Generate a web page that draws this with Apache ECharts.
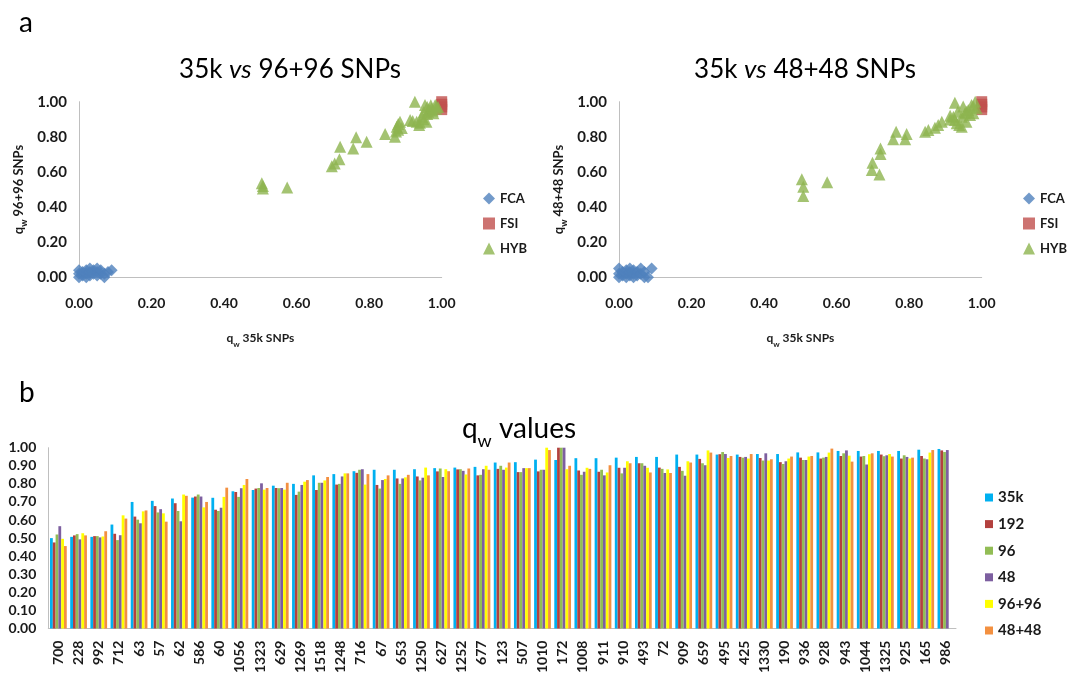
<!DOCTYPE html>
<html>
<head>
<meta charset="utf-8">
<script src="https://cdn.jsdelivr.net/npm/echarts@6/dist/echarts.min.js"></script>
<style>html,body{margin:0;padding:0;background:#fff}#c{width:1067px;height:676px}</style>
</head>
<body>
<div id="c"></div>
<script>
// ---------- Data ----------
const categories = ['700','228','992','712','63','57','62','586','60','1056','1323','629','1269','1518','1248','716','67','653','1250','627','1252','677','123','507','1010','172','1008','911','910','493','72','909','659','495','425','1330','190','936','928','943','1044','1325','925','165','986'];
const seriesNames = ['35k','192','96','48','96+96','48+48'];
const v35k = [0.50,0.507,0.507,0.575,0.70,0.706,0.719,0.724,0.723,0.759,0.766,0.79,0.80,0.847,0.854,0.87,0.878,0.878,0.881,0.887,0.89,0.894,0.918,0.92,0.934,0.932,0.942,0.942,0.945,0.949,0.949,0.962,0.962,0.962,0.962,0.965,0.965,0.974,0.974,0.982,0.982,0.982,0.982,0.989,0.993];
const v192 = [0.476,0.515,0.511,0.524,0.619,0.677,0.693,0.73,0.657,0.755,0.774,0.777,0.739,0.766,0.796,0.861,0.794,0.83,0.841,0.869,0.88,0.847,0.883,0.865,0.869,1.0,0.874,0.867,0.889,0.914,0.89,0.894,0.938,0.964,0.949,0.943,0.92,0.945,0.94,0.954,0.951,0.962,0.94,0.954,0.985];
const v96 = [0.52,0.522,0.511,0.489,0.602,0.642,0.65,0.741,0.65,0.728,0.777,0.776,0.757,0.806,0.80,0.878,0.774,0.80,0.819,0.885,0.881,0.85,0.90,0.865,0.878,1.0,0.85,0.878,0.858,0.914,0.883,0.872,0.914,0.976,0.945,0.929,0.91,0.932,0.945,0.969,0.954,0.953,0.958,0.94,0.976];
const v48 = [0.566,0.493,0.504,0.516,0.582,0.66,0.593,0.73,0.668,0.776,0.803,0.777,0.794,0.806,0.841,0.881,0.821,0.83,0.834,0.838,0.872,0.881,0.878,0.887,0.878,1.0,0.867,0.847,0.889,0.90,0.86,0.845,0.903,0.965,0.949,0.969,0.925,0.932,0.949,0.985,0.907,0.958,0.949,0.936,0.987];
const v9696 = [0.496,0.527,0.509,0.626,0.648,0.637,0.741,0.67,0.728,0.794,0.768,0.768,0.812,0.819,0.858,0.796,0.827,0.836,0.89,0.881,0.852,0.90,0.89,0.887,1.0,0.881,0.889,0.863,0.925,0.889,0.88,0.925,0.985,0.943,0.94,0.929,0.94,0.951,0.973,0.956,0.964,0.965,0.94,0.973,null];
const v4848 = [0.456,0.515,0.538,0.608,0.653,0.591,0.734,0.70,0.779,0.827,0.777,0.806,0.821,0.838,0.858,0.854,0.847,0.85,0.847,0.87,0.885,0.878,0.918,0.887,0.987,0.90,0.883,0.903,0.914,0.863,0.86,0.918,0.973,0.954,0.965,0.936,0.951,0.954,0.995,0.923,0.969,0.951,0.945,0.987,null];

// scatter (a): left = 35k vs 96+96, right = 35k vs 48+48
const fcaLeft = [[0.00,0.00],[0.00,0.02],[0.00,0.04],[0.01,0.01],[0.01,0.03],[0.02,0.00],[0.02,0.02],[0.02,0.04],[0.03,0.01],[0.03,0.03],[0.03,0.05],[0.04,0.02],[0.04,0.04],[0.05,0.01],[0.05,0.03],[0.05,0.05],[0.06,0.02],[0.06,0.04],[0.07,0.00],[0.07,0.02],[0.08,0.03],[0.09,0.04]];
const fsiLeft = [[1.0,1.0],[1.0,0.985],[1.0,0.97],[1.0,0.955]];
const hybLeft = [[0.504,0.535],[0.507,0.52],[0.507,0.505],[0.574,0.512],[0.697,0.632],[0.705,0.648],[0.718,0.672],[0.72,0.744],[0.756,0.734],[0.764,0.797],[0.793,0.772],[0.844,0.816],[0.871,0.801],[0.874,0.83],[0.876,0.858],[0.88,0.873],[0.885,0.886],[0.89,0.85],[0.913,0.896],[0.926,1.0],[0.931,0.886],[0.938,0.867],[0.945,0.915],[0.954,0.981],[0.958,0.886],[0.963,0.943],[0.972,0.962],[0.982,0.981],[0.977,0.934],[0.95,0.9],[0.96,0.93],[0.965,0.955],[0.975,0.95],[0.985,0.96],[0.94,0.88],[0.92,0.89],[0.99,0.97],[0.96,0.97],[0.95,0.94],[0.88,0.84],[0.97,0.98],[0.985,0.975]];
const fcaRight = [[0.00,0.00],[0.00,0.02],[0.00,0.05],[0.01,0.01],[0.01,0.03],[0.02,0.00],[0.02,0.02],[0.02,0.04],[0.03,0.01],[0.03,0.03],[0.03,0.05],[0.04,0.00],[0.04,0.02],[0.04,0.04],[0.05,0.01],[0.05,0.03],[0.06,0.05],[0.06,0.02],[0.07,0.00],[0.07,0.03],[0.08,0.00],[0.09,0.05]];
const fsiRight = [[1.0,1.0],[1.0,0.985],[1.0,0.97],[1.0,0.955]];
const hybRight = [[0.504,0.558],[0.508,0.516],[0.508,0.463],[0.574,0.541],[0.699,0.653],[0.697,0.611],[0.718,0.586],[0.721,0.734],[0.721,0.702],[0.756,0.786],[0.764,0.829],[0.789,0.786],[0.793,0.816],[0.844,0.829],[0.853,0.839],[0.871,0.852],[0.88,0.867],[0.89,0.886],[0.913,0.899],[0.926,0.994],[0.922,0.915],[0.931,0.877],[0.938,0.867],[0.945,0.915],[0.949,0.972],[0.954,0.934],[0.958,0.886],[0.963,0.953],[0.972,0.981],[0.977,0.934],[0.982,1.0],[0.986,0.962],[0.934,0.943],[0.945,0.858],[0.968,0.924],[0.926,0.896],[0.958,0.943],[0.977,0.972],[0.913,0.92]];

// ---------- Chart ----------
const FONT = 'Lato, "Open Sans", sans-serif';
const AX = '#BFBFBF';
const TXT = '#1a1a1a';
const subRich = (fs) => ({
  q: {fontSize: fs, fontWeight: 'bold', color: TXT, fontFamily: FONT, lineHeight: fs + 2, verticalAlign: 'top'},
  s: {fontSize: Math.round(fs * 0.7), fontWeight: 'bold', color: TXT, fontFamily: FONT, lineHeight: Math.round(fs * 0.7), padding: [Math.round(fs * 0.65), 0, 0, 0], verticalAlign: 'top'},
  t: {fontSize: fs, fontWeight: 'bold', color: TXT, fontFamily: FONT, lineHeight: fs + 2, verticalAlign: 'top'}
});
const fmt2 = v => v.toFixed(2);

function scatterAxes(gi, yname) {
  return {
    x: {
      type: 'value', gridIndex: gi, min: 0, max: 1, interval: 0.2,
      axisLine: {show: true, lineStyle: {color: AX}}, axisTick: {show: false}, splitLine: {show: false},
      axisLabel: {formatter: fmt2, fontFamily: FONT, fontWeight: 'bold', fontSize: 14, color: TXT, margin: 19},
      name: '{q|q}{s|w}{t| 35k SNPs}', nameLocation: 'middle', nameGap: 55,
      nameTextStyle: {rich: subRich(12)}
    },
    y: {
      type: 'value', gridIndex: gi, min: 0, max: 1, interval: 0.2,
      axisLine: {show: true, lineStyle: {color: AX}}, axisTick: {show: false}, splitLine: {show: false},
      axisLabel: {formatter: fmt2, fontFamily: FONT, fontWeight: 'bold', fontSize: 15, color: TXT, margin: 12},
      name: '{q|q}{s|w}{t| ' + yname + '}', nameLocation: 'middle', nameGap: 52, nameRotate: 90,
      nameTextStyle: {rich: subRich(13)}
    }
  };
}
const a0 = scatterAxes(0, '96+96 SNPs');
const a1 = scatterAxes(1, '48+48 SNPs');

const barColors = ['#00B0F0', '#B3413E', '#92BD55', '#7D5FA0', '#FFFF00', '#F39040'];
const barData = [v35k, v192, v96, v48, v9696, v4848];

const titleStyle = {fontFamily: FONT, fontSize: 26, fontWeight: 'normal', color: '#000',
  rich: {i: {fontFamily: FONT, fontSize: 26, fontWeight: 'normal', fontStyle: 'italic', color: '#000'}, n: {fontFamily: FONT, fontSize: 26, fontWeight: 'normal', color: '#000'}}};

const option = {
  animation: false,
  backgroundColor: '#fff',
  title: [
    {text: 'a', left: 14, top: 4, textStyle: {fontFamily: FONT, fontSize: 28, fontWeight: 'normal', color: '#000'}},
    {text: 'b', left: 14, top: 374, textStyle: {fontFamily: FONT, fontSize: 28, fontWeight: 'normal', color: '#000'}},
    {text: '{n|35k }{i|vs}{n| 96+96 SNPs}', left: 285, textAlign: 'center', top: 52, textStyle: titleStyle},
    {text: '{n|35k }{i|vs}{n| 48+48 SNPs}', left: 800, textAlign: 'center', top: 52, textStyle: titleStyle},
    {text: '{q|q}{s|w}{t| values}', left: 514, textAlign: 'center', top: 410,
      textStyle: {fontWeight: 'normal', rich: {
        q: {fontFamily: FONT, fontSize: 28, fontWeight: 'normal', color: '#000', lineHeight: 29, verticalAlign: 'top'},
        s: {fontFamily: FONT, fontSize: 18, fontWeight: 'normal', color: '#000', lineHeight: 18, padding: [17, 0, 0, 0], verticalAlign: 'top'},
        t: {fontFamily: FONT, fontSize: 28, fontWeight: 'normal', color: '#000', lineHeight: 29, verticalAlign: 'top'}
      }}}
  ],
  legend: [
    {orient: 'vertical', left: 478, top: 187, itemWidth: 12, itemHeight: 12, itemGap: 12,
      textStyle: {fontFamily: FONT, fontWeight: 'bold', fontSize: 13, color: TXT},
      data: [{name: 'FCA', icon: 'diamond'}, {name: 'FSI', icon: 'rect'}, {name: 'HYB', icon: 'triangle'}]},
    {orient: 'vertical', left: 1018, top: 187, itemWidth: 12, itemHeight: 12, itemGap: 12,
      textStyle: {fontFamily: FONT, fontWeight: 'bold', fontSize: 13, color: TXT},
      data: [{name: 'FCA', icon: 'diamond'}, {name: 'FSI', icon: 'rect'}, {name: 'HYB', icon: 'triangle'}]},
    {orient: 'vertical', left: 980, top: 485, itemWidth: 8, itemHeight: 8, itemGap: 11.6,
      textStyle: {fontFamily: FONT, fontWeight: 'bold', fontSize: 15, color: TXT},
      data: seriesNames.map(n => ({name: n, icon: 'rect'}))}
  ],
  grid: [
    {left: 79, top: 101.7, width: 362.7, height: 175.6},
    {left: 619, top: 101.7, width: 362.7, height: 175.6},
    {left: 48.3, top: 447.7, width: 907.7, height: 184}
  ],
  xAxis: [a0.x, a1.x, {
    type: 'category', gridIndex: 2, data: categories,
    axisLine: {show: true, lineStyle: {color: AX}}, axisTick: {show: false},
    axisLabel: {interval: 0, rotate: 90, fontFamily: FONT, fontWeight: 'bold', fontSize: 14, color: TXT, margin: 12}
  }],
  yAxis: [a0.y, a1.y, {
    type: 'value', gridIndex: 2, min: 0, max: 1, interval: 0.1,
    axisLine: {show: true, lineStyle: {color: AX}}, axisTick: {show: false}, splitLine: {show: false},
    axisLabel: {formatter: fmt2, fontFamily: FONT, fontWeight: 'bold', fontSize: 14, color: TXT, margin: 12}
  }],
  series: [
    {name: 'FCA', type: 'scatter', xAxisIndex: 0, yAxisIndex: 0, data: fcaLeft, symbol: 'diamond', symbolSize: 12, clip: false, itemStyle: {color: '#4F81BD'}},
    {name: 'FSI', type: 'scatter', xAxisIndex: 0, yAxisIndex: 0, data: fsiLeft, symbol: 'rect', symbolSize: 11, clip: false, itemStyle: {color: '#C0504D'}},
    {name: 'HYB', type: 'scatter', xAxisIndex: 0, yAxisIndex: 0, data: hybLeft, symbol: 'triangle', symbolSize: 12, clip: false, itemStyle: {color: '#8DB44F'}},
    {name: 'FCA', type: 'scatter', xAxisIndex: 1, yAxisIndex: 1, data: fcaRight, symbol: 'diamond', symbolSize: 12, clip: false, itemStyle: {color: '#4F81BD'}},
    {name: 'FSI', type: 'scatter', xAxisIndex: 1, yAxisIndex: 1, data: fsiRight, symbol: 'rect', symbolSize: 11, clip: false, itemStyle: {color: '#C0504D'}},
    {name: 'HYB', type: 'scatter', xAxisIndex: 1, yAxisIndex: 1, data: hybRight, symbol: 'triangle', symbolSize: 12, clip: false, itemStyle: {color: '#8DB44F'}}
  ].concat(seriesNames.map((n, i) => ({
    name: n, type: 'bar', xAxisIndex: 2, yAxisIndex: 2, data: barData[i],
    barGap: '0%', barCategoryGap: '17%', itemStyle: {color: barColors[i]}
  })))
};

const chart = echarts.init(document.getElementById('c'), null, {renderer: 'canvas'});
chart.setOption(option);
</script>
</body>
</html>
